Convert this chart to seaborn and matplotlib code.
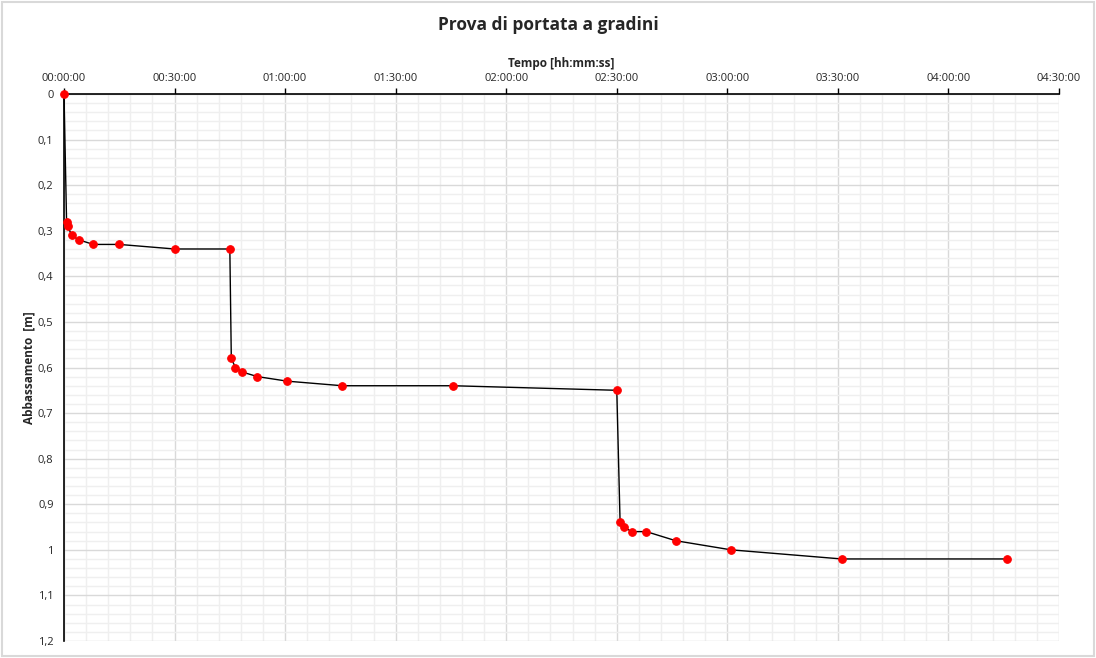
import numpy as np
import pandas as pd
import matplotlib
matplotlib.use("Agg")
import matplotlib.pyplot as plt
import seaborn as sns
from matplotlib.ticker import MultipleLocator, FuncFormatter

# time since start in minutes, drawdown in metres
minutes = [0, 0.7, 1, 2.1, 4, 8, 15, 30, 45,
           45.4, 46.5, 48.4, 52.5, 60.6, 75.5, 105.5, 150,
           150.9, 152, 154, 158, 166, 181, 211, 256]
drawdown = [0, 0.28, 0.29, 0.31, 0.32, 0.33, 0.33, 0.34, 0.34,
            0.58, 0.60, 0.61, 0.62, 0.63, 0.64, 0.64, 0.65,
            0.94, 0.95, 0.96, 0.96, 0.98, 1.00, 1.02, 1.02]

data = pd.DataFrame({"Tempo": minutes, "Abbassamento": drawdown})

sns.set_style("white")
plt.rcParams['font.family'] = ['Open Sans', 'DejaVu Sans']

fig = plt.figure(figsize=(10.96, 6.58), dpi=100)
ax = fig.add_axes([64 / 1096, 1 - 641 / 658, (1059 - 64) / 1096, (641 - 94) / 658])

sns.lineplot(x="Tempo", y="Abbassamento", data=data, ax=ax, color='black',
             linewidth=1, marker='o', markersize=5.5, markerfacecolor='red',
             markeredgecolor='red', zorder=3, clip_on=False)

ax.set_xlim(0, 270)
ax.set_ylim(1.2, 0)

ax.xaxis.set_major_locator(MultipleLocator(30))
ax.xaxis.set_minor_locator(MultipleLocator(6))
ax.yaxis.set_major_locator(MultipleLocator(0.1))
ax.yaxis.set_minor_locator(MultipleLocator(0.02))

def hms(v, pos):
    h = int(v // 60)
    m = int(round(v % 60))
    return f"{h:02d}:{m:02d}:00"

def comma(v, pos):
    s = f"{v:.1f}".replace('.', ',')
    if s.endswith(',0'):
        s = s[:-2]
    return s

ax.xaxis.set_major_formatter(FuncFormatter(hms))
ax.yaxis.set_major_formatter(FuncFormatter(comma))

ax.xaxis.tick_top()
ax.xaxis.set_label_position('top')

ax.grid(which='major', color='#d9d9d9', linewidth=1)
ax.grid(which='minor', color='#efefef', linewidth=1)
ax.set_axisbelow(True)

ax.tick_params(axis='both', which='major', direction='out', length=4, width=1,
               color='black', labelsize=8)
ax.tick_params(axis='both', which='minor', length=0)

for side in ['right', 'bottom']:
    ax.spines[side].set_visible(False)
for side in ['left', 'top']:
    ax.spines[side].set_color('black')
    ax.spines[side].set_linewidth(1.2)

ax.set_xlabel('Tempo [hh:mm:ss]', fontsize=8.5, fontweight='bold', labelpad=4)
ax.set_ylabel('Abbassamento  [m]', fontsize=8.5, fontweight='bold', labelpad=2)

fig.suptitle('Prova di portata a gradini', fontsize=12.5, fontweight='bold', y=0.975)

# light frame around the whole chart
fig.patches.append(plt.Rectangle((0.002, 0.003), 0.996, 0.994, transform=fig.transFigure,
                                 fill=False, edgecolor='#d9d9d9', linewidth=1.5))

plt.savefig('out.png', dpi=100)
